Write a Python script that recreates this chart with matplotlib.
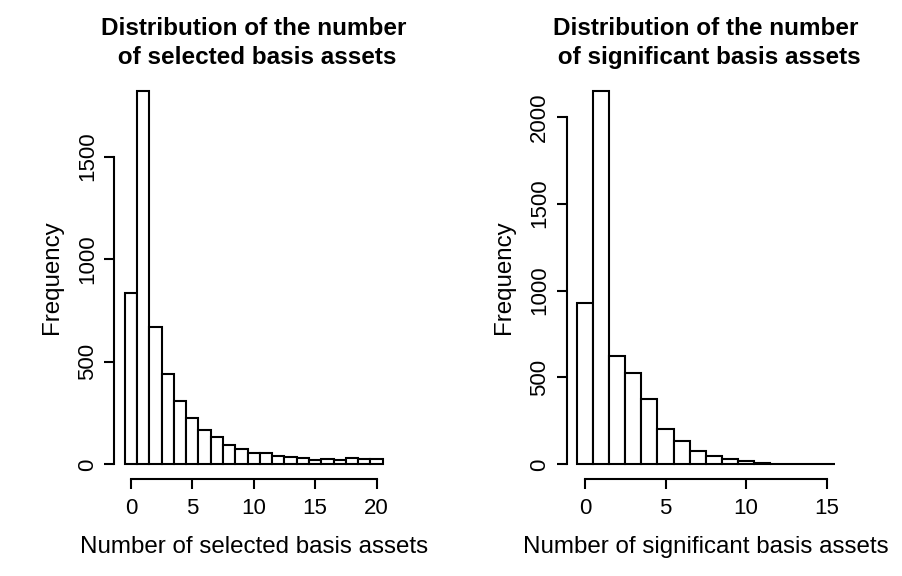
import numpy as np
import matplotlib
matplotlib.use('Agg')
import matplotlib.pyplot as plt

plt.rcParams['font.family'] = ['Liberation Sans', 'DejaVu Sans']

# ============================================================
# DATA — histogram counts (bins of width 1)
# ============================================================
selected_bins   = list(range(0, 21))
selected_counts = [837, 1822, 671, 442, 310, 228, 169, 135, 94, 75,
                   57, 57, 42, 37, 31, 20, 24, 20, 32, 28, 28]

signif_bins   = list(range(0, 16))
signif_counts = [931, 2151, 626, 528, 378, 205, 132, 75, 50, 33,
                 17, 10, 4, 2, 1, 1]

left_title  = 'Distribution of the number\n of selected basis assets'
right_title = 'Distribution of the number\n of significant basis assets'
left_xlabel  = 'Number of selected basis assets'
right_xlabel = 'Number of significant basis assets'
left_xticks  = [0, 5, 10, 15, 20]
left_yticks  = [0, 500, 1000, 1500]
right_xticks = [0, 5, 10, 15]
right_yticks = [0, 500, 1000, 1500, 2000]

W, H = 903, 576
fig = plt.figure(figsize=(W / 100, H / 100), dpi=100)

LW = 1.5
TICK_FS = 16
LABEL_FS = 17.4
TITLE_FS = 17.5


def r_hist(ax_rect, bins, counts, xticks, yticks, title, xlabel):
    ax = fig.add_axes(ax_rect)
    edges = np.array(bins) - 0.5
    ax.bar(edges, counts, width=1.0, align='edge', color='white',
           edgecolor='black', linewidth=LW)
    x0, x1 = edges[0], edges[-1] + 1
    dx = (x1 - x0) * 0.04
    ax.set_xlim(x0 - dx, x1 + dx)
    ymax = max(counts)
    ax.set_ylim(-ymax * 0.04, ymax * 1.04)

    for s in ['top', 'right']:
        ax.spines[s].set_visible(False)
    ax.spines['left'].set_bounds(yticks[0], yticks[-1])
    ax.spines['bottom'].set_bounds(xticks[0], xticks[-1])
    for s in ['left', 'bottom']:
        ax.spines[s].set_linewidth(LW)

    ax.set_xticks(xticks)
    ax.set_yticks(yticks)
    ax.set_yticklabels([str(v) for v in yticks], rotation=90, va='center')
    ax.tick_params(axis='both', length=7.2, width=LW, labelsize=TICK_FS)
    ax.tick_params(axis='x', pad=6)
    ax.tick_params(axis='y', pad=4.5)

    ax.set_xlabel(xlabel, fontsize=LABEL_FS)
    ax.xaxis.set_label_coords(0.5, -0.168)
    ax.xaxis.label.set_va('center')
    ax.set_ylabel('Frequency', fontsize=LABEL_FS)
    ax.yaxis.set_label_coords(-0.224, 0.5)
    ax.yaxis.label.set_va('center')

    ax.text(0.5, 1.08, title, transform=ax.transAxes, ha='center',
            va='center', fontsize=TITLE_FS, fontweight='bold',
            multialignment='center', linespacing=1.35)
    return ax


# axes rectangles in figure fractions
bottom = (H - 479.3) / H
height = (479.3 - 75.6) / H
r_hist([114.5 / W, bottom, (393 - 114.5) / W, height],
       selected_bins, selected_counts, left_xticks, left_yticks,
       left_title, left_xlabel)
r_hist([566.6 / W, bottom, (845 - 566.6) / W, height],
       signif_bins, signif_counts, right_xticks, right_yticks,
       right_title, right_xlabel)

fig.savefig('out.png', dpi=100, facecolor='white')
